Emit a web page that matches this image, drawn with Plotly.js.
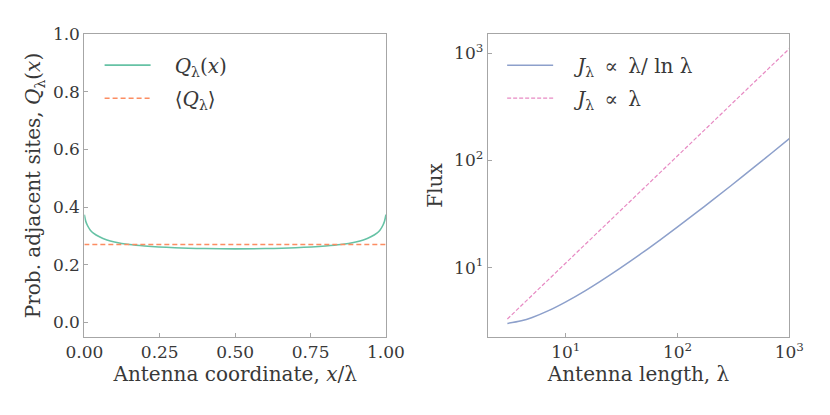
<!DOCTYPE html>
<html>
<head>
<meta charset="utf-8">
<script src="https://cdn.plot.ly/plotly-3.0.1.min.js"></script>
<style>
  html, body { margin: 0; padding: 0; background: #fff; }
  #chart { width: 830px; height: 415px; }
</style>
</head>
<body>
<div id="chart"></div>
<script>
// Left panel: probability of adjacent sites along the antenna
const coordX = [0, 0.005, 0.01, 0.02, 0.03, 0.05, 0.075, 0.1, 0.15, 0.2, 0.3, 0.4, 0.5,
                0.6, 0.7, 0.8, 0.85, 0.9, 0.925, 0.95, 0.97, 0.98, 0.99, 0.995, 1];
const probQ  = [0.374, 0.350, 0.337, 0.320, 0.310, 0.297, 0.286, 0.279, 0.270, 0.265, 0.259, 0.256, 0.255,
                0.256, 0.259, 0.265, 0.270, 0.279, 0.286, 0.297, 0.310, 0.320, 0.337, 0.350, 0.374];
const meanQ = 0.270;

// Right panel: flux vs antenna length
const lengths  = [3, 4, 5, 7, 10, 15, 20, 30, 50, 70, 100, 150, 200, 300, 500, 700, 1000];
const fluxLog  = [3.02, 3.19, 3.43, 3.97, 4.80, 6.12, 7.38, 9.75, 14.1, 18.2, 24.0, 33.1, 41.7, 58.1, 88.9, 118, 160];
const fluxLin  = [3.32, 4.42, 5.53, 7.74, 11.1, 16.6, 22.1, 33.2, 55.3, 77.4, 111, 166, 221, 332, 553, 774, 1105];

const xTicksLeft = [0, 0.25, 0.5, 0.75, 1];
const yTicksLeft = [0, 0.2, 0.4, 0.6, 0.8, 1];
const logTicks = [10, 100, 1000];
const logTickText = ['10<sup>1</sup>', '10<sup>2</sup>', '10<sup>3</sup>'];

const FONT = '"DejaVu Serif", "Liberation Serif", serif';
const TEXT = '#383838';
const FRAME = '#a6a6a6';
const GAP = '\u00a0\u00a0\u00a0';   // extra room between legend line and label
const SP = '\u2009';                // thin space around the relation sign

function axisStyle(extra) {
  return Object.assign({
    showline: true, mirror: true, linecolor: FRAME, linewidth: 1,
    ticks: 'inside', ticklen: 4, tickcolor: FRAME, tickwidth: 1,
    showgrid: false, zeroline: false,
    tickfont: { family: FONT, size: 17, color: TEXT },
  }, extra);
}

const titleFont = { family: FONT, size: 20, color: TEXT };

const data = [
  { x: coordX, y: probQ, type: 'scatter', mode: 'lines', name: GAP + '<i>Q</i><sub>λ</sub>(<i>x</i>)',
    line: { color: '#66c2a5', width: 1.6, shape: 'spline' }, xaxis: 'x', yaxis: 'y',
    legend: 'legend', legendgroup: 'a' },
  { x: [0, 1], y: [meanQ, meanQ], type: 'scatter', mode: 'lines', name: GAP + '⟨<i>Q</i><sub>λ</sub>⟩',
    line: { color: '#fc8d62', width: 1.5, dash: '5px,3px' }, xaxis: 'x', yaxis: 'y',
    legend: 'legend', legendgroup: 'b' },
  { x: lengths, y: fluxLog, type: 'scatter', mode: 'lines',
    name: GAP + '<i>J</i><sub>λ</sub> ' + SP + '∝' + SP + ' λ/ ln λ',
    line: { color: '#8da0cb', width: 1.5, shape: 'spline' }, xaxis: 'x2', yaxis: 'y2',
    legend: 'legend2', legendgroup: 'c' },
  { x: lengths, y: fluxLin, type: 'scatter', mode: 'lines',
    name: GAP + '<i>J</i><sub>λ</sub> ' + SP + '∝' + SP + ' λ',
    line: { color: '#e78ac3', width: 1.2, dash: '4px,2px' }, xaxis: 'x2', yaxis: 'y2',
    legend: 'legend2', legendgroup: 'd' },
];

const legendStyle = {
  bgcolor: 'rgba(0,0,0,0)', borderwidth: 0,
  font: { family: FONT, size: 20, color: TEXT },
  itemwidth: 46, tracegroupgap: 4,
  xanchor: 'left', yanchor: 'top',
};

const layout = {
  width: 830, height: 415,
  margin: { l: 0, r: 0, t: 0, b: 0 },
  paper_bgcolor: '#fff', plot_bgcolor: '#fff',
  font: { family: FONT, color: TEXT },
  xaxis: axisStyle({
    domain: [0.1016, 0.465], range: [0, 1], anchor: 'y',
    tickvals: xTicksLeft, tickformat: '.2f',
    title: { text: 'Antenna coordinate, <i>x</i>/λ', font: titleFont, standoff: 3 },
  }),
  yaxis: axisStyle({
    domain: [0.1887, 0.9173], range: [-0.05, 1.0], anchor: 'x',
    tickvals: yTicksLeft, tickformat: '.1f',
    title: { text: 'Prob. adjacent sites, <i>Q</i><sub>λ</sub>(<i>x</i>)', font: titleFont, standoff: 6 },
  }),
  xaxis2: axisStyle({
    domain: [0.5876, 0.951], type: 'log', range: [0.301, 3], anchor: 'y2',
    tickvals: logTicks, ticktext: logTickText,
    title: { text: 'Antenna length, λ', font: titleFont, standoff: 3 },
  }),
  yaxis2: axisStyle({
    domain: [0.1887, 0.9173], type: 'log', range: [0.356, 3.177], anchor: 'x2',
    tickvals: logTicks, ticktext: logTickText,
    title: { text: 'Flux', font: titleFont, standoff: 6 },
  }),
  legend: Object.assign({}, legendStyle, { x: 0.12, y: 0.89 }),
  legend2: Object.assign({}, legendStyle, { x: 0.605, y: 0.89 }),
};

Plotly.newPlot('chart', data, layout, { displayModeBar: false, staticPlot: true });
</script>
</body>
</html>
